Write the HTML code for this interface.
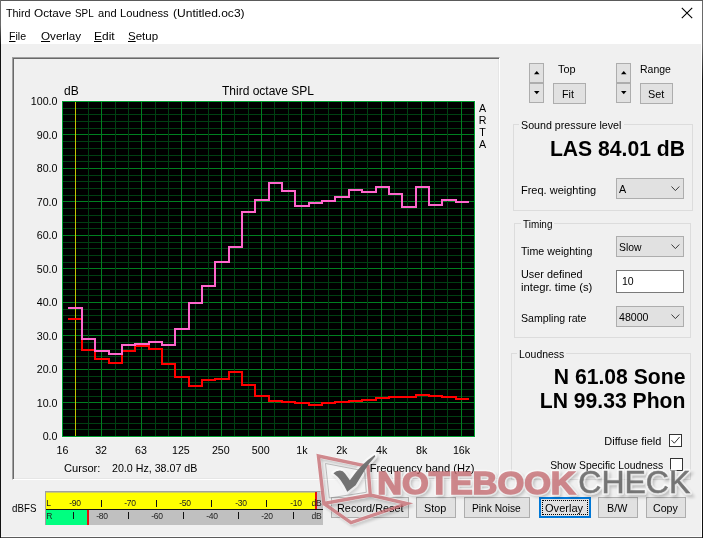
<!DOCTYPE html>
<html><head><meta charset="utf-8"><title>Third Octave SPL and Loudness</title>
<style>
html,body{margin:0;padding:0}
body{width:703px;height:538px;overflow:hidden;position:relative;background:#f0f0f0;font-family:"Liberation Sans",sans-serif;font-size:12px;color:#000}
.win div,.win span{position:absolute;white-space:nowrap}
.win{position:absolute;left:0;top:0;width:703px;height:538px;overflow:hidden}
.titlebar{left:1px;top:1px;width:701px;height:43px;background:#fff}
.ui{font-size:11.4px;line-height:16px;z-index:6}
.ui u{text-decoration:underline;text-underline-offset:1px}
.bT{left:0;top:0;width:703px;height:1px;background:#5a5a5a}
.bL{left:0;top:0;width:1px;height:538px;background:linear-gradient(#6a6a6a 0,#6a6a6a 25px,#111 45px)}
.bR{left:701px;top:44px;width:1px;height:493px;background:#fff}
.bR2{left:702px;top:0;width:1px;height:538px;background:linear-gradient(#6a6a6a 0,#6a6a6a 45px,#111 80px)}
.bB{left:1px;top:536px;width:701px;height:1px;background:#fbfbfb;border-bottom:1px solid #5a5a5a}
.panel{left:12px;top:57px;width:486px;height:421px;border:1px solid;border-color:#a0a0a0 #fff #fff #a0a0a0;box-shadow:inset 1px 1px 0 #696969,inset -1px -1px 0 #e6e6e6}
.ct{font-size:12px;line-height:14px}
.cs{font-size:10.67px;line-height:14px;z-index:6}
.yl{right:645.5px;font-size:10.67px;line-height:14px;text-align:right}
.xl{z-index:6;top:442.6px;width:40px;text-align:center;font-size:10.67px;line-height:14px}
.gb{border:1px solid #dcdcdc}
.gcover{height:5px;background:#f0f0f0}
.big{font-weight:bold;font-size:21.3px;line-height:24px;text-align:right}
.btn{background:#e1e1e1;border:1px solid #adadad;box-sizing:border-box}
.combo{background:#e1e1e1;border:1px solid #adadad;box-sizing:border-box}
.chk{background:#fff;border:1px solid #333;box-sizing:border-box;width:13px;height:13px}
.meter{left:45px;top:491px;width:278px;height:34px;border-left:1px solid #a0a0a0;border-top:1px solid #a0a0a0;box-sizing:border-box;background:#c0c0c0}
.mL{left:0;top:0;width:270px;height:17px;background:linear-gradient(#cccc66 0,#cccc66 1px,#ffff00 1px)}
.mLine{left:0;top:17px;width:277px;height:1px;background:#111}
.mR{left:0;top:18px;width:277px;height:15px;background:#c0c0c0}
.mG{left:0;top:18px;width:41px;height:15px;background:#00ff80}
.mred{width:2px;background:#e81010}
.mt{font-size:9.5px;line-height:10px;color:#222;letter-spacing:-0.3px;transform:scaleX(0.9)}
.mc{width:30px;text-align:center}
.tick{width:1px;height:7px;background:#111}
</style></head><body><div class="win">
<div class="titlebar"></div>
<div id="t0" class="ui" style="left:5.5px;transform-origin:0 50%;top:4.6px;transform:scaleX(0.948);">Third</div><div id="t1" class="ui" style="left:34.2px;transform-origin:0 50%;top:4.6px;transform:scaleX(1.031);">Octave</div><div id="t2" class="ui" style="left:75.0px;transform-origin:0 50%;top:4.6px;transform:scaleX(0.864);">SPL</div><div id="t3" class="ui" style="left:97.5px;transform-origin:0 50%;top:4.6px;transform:scaleX(0.978);">and</div><div id="t4" class="ui" style="left:120.0px;transform-origin:0 50%;top:4.6px;transform:scaleX(0.984);">Loudness</div><div id="t5" class="ui" style="left:172.5px;transform-origin:0 50%;top:4.6px;transform:scaleX(1.057);">(Untitled.oc3)</div>
<svg style="position:absolute;left:681px;top:7px" width="12" height="12" viewBox="0 0 12 12"><path d="M0.8 0.8L11.2 11.2M11.2 0.8L0.8 11.2" stroke="#000" stroke-width="1.1" fill="none"/></svg>
<div id="t6" class="ui" style="left:8.5px;transform-origin:0 50%;top:28.0px;transform:scaleX(0.931);"><u>F</u>ile</div>
<div id="t7" class="ui" style="left:40.5px;transform-origin:0 50%;top:28.0px;transform:scaleX(1.021);"><u>O</u>verlay</div>
<div id="t8" class="ui" style="left:94.0px;transform-origin:0 50%;top:28.0px;transform:scaleX(1.049);"><u>E</u>dit</div>
<div id="t9" class="ui" style="left:128.0px;transform-origin:0 50%;top:28.0px;transform:scaleX(1.011);"><u>S</u>etup</div>

<div class="panel"></div>
<svg width="703" height="538" viewBox="0 0 703 538" style="position:absolute;left:0;top:0" shape-rendering="crispEdges">
<rect x="61" y="100" width="415" height="338" fill="#f8f4f8"/>
<rect x="62" y="101" width="413" height="336" fill="#000"/>
<rect x="62" y="429" width="413" height="1" fill="#004012"/>
<rect x="62" y="423" width="413" height="1" fill="#004012"/>
<rect x="62" y="416" width="413" height="1" fill="#004012"/>
<rect x="62" y="409" width="413" height="1" fill="#004012"/>
<rect x="62" y="402" width="413" height="1" fill="#007f20"/>
<rect x="62" y="396" width="413" height="1" fill="#004012"/>
<rect x="62" y="389" width="413" height="1" fill="#004012"/>
<rect x="62" y="382" width="413" height="1" fill="#004012"/>
<rect x="62" y="376" width="413" height="1" fill="#004012"/>
<rect x="62" y="369" width="413" height="1" fill="#007f20"/>
<rect x="62" y="362" width="413" height="1" fill="#004012"/>
<rect x="62" y="356" width="413" height="1" fill="#004012"/>
<rect x="62" y="349" width="413" height="1" fill="#004012"/>
<rect x="62" y="342" width="413" height="1" fill="#004012"/>
<rect x="62" y="335" width="413" height="1" fill="#007f20"/>
<rect x="62" y="329" width="413" height="1" fill="#004012"/>
<rect x="62" y="322" width="413" height="1" fill="#004012"/>
<rect x="62" y="315" width="413" height="1" fill="#004012"/>
<rect x="62" y="309" width="413" height="1" fill="#004012"/>
<rect x="62" y="302" width="413" height="1" fill="#007f20"/>
<rect x="62" y="295" width="413" height="1" fill="#004012"/>
<rect x="62" y="289" width="413" height="1" fill="#004012"/>
<rect x="62" y="282" width="413" height="1" fill="#004012"/>
<rect x="62" y="275" width="413" height="1" fill="#004012"/>
<rect x="62" y="268" width="413" height="1" fill="#007f20"/>
<rect x="62" y="262" width="413" height="1" fill="#004012"/>
<rect x="62" y="255" width="413" height="1" fill="#004012"/>
<rect x="62" y="248" width="413" height="1" fill="#004012"/>
<rect x="62" y="242" width="413" height="1" fill="#004012"/>
<rect x="62" y="235" width="413" height="1" fill="#007f20"/>
<rect x="62" y="228" width="413" height="1" fill="#004012"/>
<rect x="62" y="222" width="413" height="1" fill="#004012"/>
<rect x="62" y="215" width="413" height="1" fill="#004012"/>
<rect x="62" y="208" width="413" height="1" fill="#004012"/>
<rect x="62" y="201" width="413" height="1" fill="#007f20"/>
<rect x="62" y="195" width="413" height="1" fill="#004012"/>
<rect x="62" y="188" width="413" height="1" fill="#004012"/>
<rect x="62" y="181" width="413" height="1" fill="#004012"/>
<rect x="62" y="175" width="413" height="1" fill="#004012"/>
<rect x="62" y="168" width="413" height="1" fill="#007f20"/>
<rect x="62" y="161" width="413" height="1" fill="#004012"/>
<rect x="62" y="155" width="413" height="1" fill="#004012"/>
<rect x="62" y="148" width="413" height="1" fill="#004012"/>
<rect x="62" y="141" width="413" height="1" fill="#004012"/>
<rect x="62" y="134" width="413" height="1" fill="#007f20"/>
<rect x="62" y="128" width="413" height="1" fill="#004012"/>
<rect x="62" y="121" width="413" height="1" fill="#004012"/>
<rect x="62" y="114" width="413" height="1" fill="#004012"/>
<rect x="62" y="108" width="413" height="1" fill="#004012"/>
<rect x="75" y="101" width="1" height="336" fill="#c4c400"/>
<rect x="88" y="101" width="1" height="336" fill="#004012"/>
<rect x="101" y="101" width="1" height="336" fill="#007f20"/>
<rect x="115" y="101" width="1" height="336" fill="#004012"/>
<rect x="128" y="101" width="1" height="336" fill="#004012"/>
<rect x="141" y="101" width="1" height="336" fill="#007f20"/>
<rect x="155" y="101" width="1" height="336" fill="#004012"/>
<rect x="168" y="101" width="1" height="336" fill="#004012"/>
<rect x="181" y="101" width="1" height="336" fill="#007f20"/>
<rect x="195" y="101" width="1" height="336" fill="#004012"/>
<rect x="208" y="101" width="1" height="336" fill="#004012"/>
<rect x="221" y="101" width="1" height="336" fill="#007f20"/>
<rect x="234" y="101" width="1" height="336" fill="#004012"/>
<rect x="248" y="101" width="1" height="336" fill="#004012"/>
<rect x="261" y="101" width="1" height="336" fill="#007f20"/>
<rect x="274" y="101" width="1" height="336" fill="#004012"/>
<rect x="288" y="101" width="1" height="336" fill="#004012"/>
<rect x="301" y="101" width="1" height="336" fill="#007f20"/>
<rect x="314" y="101" width="1" height="336" fill="#004012"/>
<rect x="328" y="101" width="1" height="336" fill="#004012"/>
<rect x="341" y="101" width="1" height="336" fill="#007f20"/>
<rect x="354" y="101" width="1" height="336" fill="#004012"/>
<rect x="367" y="101" width="1" height="336" fill="#004012"/>
<rect x="381" y="101" width="1" height="336" fill="#007f20"/>
<rect x="394" y="101" width="1" height="336" fill="#004012"/>
<rect x="407" y="101" width="1" height="336" fill="#004012"/>
<rect x="421" y="101" width="1" height="336" fill="#007f20"/>
<rect x="434" y="101" width="1" height="336" fill="#004012"/>
<rect x="447" y="101" width="1" height="336" fill="#004012"/>
<rect x="461" y="101" width="1" height="336" fill="#007f20"/>
<rect x="62.5" y="101.5" width="412" height="335" fill="none" stroke="#00a030" stroke-width="1"/>
<path d="M68.4 318.9H81.8V350.2H95.1V358.5H108.5V362.7H121.8V350.5H135.2V345.7H148.5V348.9H161.8V363.8H175.2V376.9H188.5V385.8H201.9V380.2H215.2V378.8H228.6V371.9H241.9V384.8H255.3V395.8H268.7V400.8H282.0V401.8H295.4V403.1H308.7V404.9H322.1V403.1H335.4V402.1H348.8V401.1H362.1V399.9H375.5V397.8H388.8V396.7H402.1V396.7H415.5V394.9H428.9V396.0H442.2V396.7H455.6V399.1H468.9" fill="none" stroke="#ff0000" stroke-width="2"/>
<path d="M68.4 308.0H81.8V339.0H95.1V351.0H108.5V354.4H121.8V344.7H135.2V343.5H148.5V342.2H161.8V345.4H175.2V328.6H188.5V302.7H201.9V285.6H215.2V261.7H228.6V246.9H241.9V211.6H255.3V200.1H268.7V182.9H282.0V190.9H295.4V205.7H308.7V203.0H322.1V200.6H335.4V196.8H348.8V190.2H362.1V191.9H375.5V186.9H388.8V193.9H402.1V207.2H415.5V186.9H428.9V204.8H442.2V199.8H455.6V201.8H468.9" fill="none" stroke="#ff66cc" stroke-width="2"/>
</svg>
<div class="ct" style="left:64px;top:84px">dB</div>
<div class="ct" style="left:222px;top:84px">Third octave SPL</div>
<div class="cs" style="left:478px;top:102.3px;line-height:12px;width:9px;text-align:center;white-space:normal">A<br>R<br>T<br>A</div>
<div class="yl" style="top:429.4px">0.0</div>
<div class="yl" style="top:395.9px">10.0</div>
<div class="yl" style="top:362.4px">20.0</div>
<div class="yl" style="top:328.9px">30.0</div>
<div class="yl" style="top:295.4px">40.0</div>
<div class="yl" style="top:261.9px">50.0</div>
<div class="yl" style="top:228.4px">60.0</div>
<div class="yl" style="top:194.9px">70.0</div>
<div class="yl" style="top:161.4px">80.0</div>
<div class="yl" style="top:127.9px">90.0</div>
<div class="yl" style="top:94.4px">100.0</div>
<div class="xl" style="left:42.5px">16</div>
<div class="xl" style="left:81.1px">32</div>
<div class="xl" style="left:121.0px">63</div>
<div class="xl" style="left:160.9px">125</div>
<div class="xl" style="left:200.8px">250</div>
<div class="xl" style="left:240.7px">500</div>
<div class="xl" style="left:281.9px">1k</div>
<div class="xl" style="left:321.8px">2k</div>
<div class="xl" style="left:361.7px">4k</div>
<div class="xl" style="left:401.6px">8k</div>
<div class="xl" style="left:441.5px">16k</div>
<div class="cs" style="left:64px;top:461px;font-size:11.1px">Cursor:</div>
<div class="cs" style="left:112px;top:461px">20.0 Hz, 38.07 dB</div>
<div class="cs" style="right:228.60000000000002px;top:461px;font-size:11.15px">Frequency band (Hz)</div>

<div id="t10" class="ui" style="left:11.7px;transform-origin:0 50%;top:500.2px;transform:scaleX(0.856);">dBFS</div>
<div class="meter">
<div class="mL"></div><div class="mLine"></div><div class="mR"></div><div class="mG"></div>
<div class="mred" style="left:269px;top:0px;height:17px"></div>
<div class="mred" style="left:41px;top:18px;height:15px"></div>
<span class="mt" style="left:0px;top:6px">L</span><span class="mt" style="left:0px;top:19px">R</span>
<span class="mt mc" style="left:13.8px;top:6px">-90</span>
<div class="tick" style="left:26.9px;top:20px"></div>
<span class="mt mc" style="left:69.0px;top:6px">-70</span>
<div class="tick" style="left:81.8px;top:20px"></div>
<span class="mt mc" style="left:124.2px;top:6px">-50</span>
<div class="tick" style="left:136.8px;top:20px"></div>
<span class="mt mc" style="left:179.5px;top:6px">-30</span>
<div class="tick" style="left:191.6px;top:20px"></div>
<span class="mt mc" style="left:234.7px;top:6px">-10</span>
<div class="tick" style="left:246.6px;top:20px"></div>
<span class="mt mc" style="left:41.4px;top:19px">-80</span>
<div class="tick" style="left:55.4px;top:8px"></div>
<span class="mt mc" style="left:96.3px;top:19px">-60</span>
<div class="tick" style="left:110.3px;top:8px"></div>
<span class="mt mc" style="left:151.2px;top:19px">-40</span>
<div class="tick" style="left:165.2px;top:8px"></div>
<span class="mt mc" style="left:206.1px;top:19px">-20</span>
<div class="tick" style="left:220.1px;top:8px"></div>
<span class="mt" style="left:265px;top:6px">dB</span><span class="mt" style="left:265px;top:19px">dB</span>
</div>

<div class="btn" style="left:529px;top:63px;width:15px;height:20px"><svg style="position:absolute;left:3.7px;top:7px" width="6" height="4"><path d="M0 3.3L2.75 0L5.5 3.3Z" fill="#000"/></svg></div>
<div class="btn" style="left:529px;top:83px;width:15px;height:20px"><svg style="position:absolute;left:3.7px;top:7px" width="6" height="4"><path d="M0 0L2.75 3.3L5.5 0Z" fill="#000"/></svg></div>
<div id="t11" class="ui" style="left:557.9px;transform-origin:0 50%;top:61.3px;transform:scaleX(0.958);">Top</div>
<div class="btn" style="left:553px;top:83px;width:33px;height:21px"></div>
<div id="t12" class="ui" style="left:562.4px;transform-origin:0 50%;top:85.7px;transform:scaleX(0.940);">Fit</div>
<div class="btn" style="left:616px;top:63px;width:15px;height:20px"><svg style="position:absolute;left:3.7px;top:7px" width="6" height="4"><path d="M0 3.3L2.75 0L5.5 3.3Z" fill="#000"/></svg></div>
<div class="btn" style="left:616px;top:83px;width:15px;height:20px"><svg style="position:absolute;left:3.7px;top:7px" width="6" height="4"><path d="M0 0L2.75 3.3L5.5 0Z" fill="#000"/></svg></div>
<div id="t13" class="ui" style="left:639.7px;transform-origin:0 50%;top:61.3px;transform:scaleX(0.920);">Range</div>
<div class="btn" style="left:640px;top:83px;width:33px;height:21px"></div>
<div id="t14" class="ui" style="left:647.7px;transform-origin:0 50%;top:85.7px;transform:scaleX(0.953);">Set</div>

<div class="gb" style="left:513px;top:124px;width:178px;height:85px"></div>
<div class="gcover" style="left:519px;top:122px;width:105px"></div>
<div id="t15" class="ui" style="left:521.4px;transform-origin:0 50%;top:116.9px;transform:scaleX(0.938);">Sound pressure level</div>
<div class="big" style="right:18px;top:137.3px;font-size:21.15px">LAS 84.01 dB</div>
<div id="t16" class="ui" style="left:521.4px;transform-origin:0 50%;top:181.7px;transform:scaleX(0.965);">Freq. weighting</div>
<div class="combo" style="left:616px;top:178px;width:68px;height:21px"><svg style="position:absolute;left:53.6px;top:7.2px" width="10" height="6"><path d="M0.5 0.5L4.4 4.6L8.3 0.5" stroke="#3a3a3a" stroke-width="1" fill="none"/></svg></div>
<div id="t17" class="ui" style="left:619.2px;transform-origin:0 50%;top:180.5px;transform:scaleX(0.946);">A</div>

<div class="gb" style="left:514px;top:223px;width:175px;height:113px"></div>
<div class="gcover" style="left:521px;top:221px;width:33px"></div>
<div id="t18" class="ui" style="left:523.2px;transform-origin:0 50%;top:215.8px;transform:scaleX(0.871);">Timing</div>
<div id="t19" class="ui" style="left:521.4px;transform-origin:0 50%;top:243.1px;transform:scaleX(0.936);">Time weighting</div>
<div class="combo" style="left:616px;top:236px;width:68px;height:21px"><svg style="position:absolute;left:53.6px;top:7.2px" width="10" height="6"><path d="M0.5 0.5L4.4 4.6L8.3 0.5" stroke="#3a3a3a" stroke-width="1" fill="none"/></svg></div>
<div id="t20" class="ui" style="left:618.7px;transform-origin:0 50%;top:238.6px;transform:scaleX(0.911);">Slow</div>
<div id="t21" class="ui" style="left:521.4px;transform-origin:0 50%;top:265.7px;transform:scaleX(0.952);">User defined</div>
<div id="t22" class="ui" style="left:521.4px;transform-origin:0 50%;top:279.0px;transform:scaleX(0.988);">integr. time (s)</div>
<div class="combo" style="left:616px;top:270px;width:68px;height:23px;background:#fff;border-color:#7a7a7a"></div>
<div id="t23" class="ui" style="left:621.9px;transform-origin:0 50%;top:273.0px;transform:scaleX(0.923);">10</div>
<div id="t24" class="ui" style="left:521.4px;transform-origin:0 50%;top:310.0px;transform:scaleX(0.931);">Sampling rate</div>
<div class="combo" style="left:616px;top:306px;width:68px;height:21px"><svg style="position:absolute;left:53.6px;top:7.2px" width="10" height="6"><path d="M0.5 0.5L4.4 4.6L8.3 0.5" stroke="#3a3a3a" stroke-width="1" fill="none"/></svg></div>
<div id="t25" class="ui" style="left:619.1px;transform-origin:0 50%;top:308.8px;transform:scaleX(0.931);">48000</div>

<div class="gb" style="left:511px;top:353px;width:178px;height:125px"></div>
<div class="gcover" style="left:517px;top:351px;width:49px"></div>
<div id="t26" class="ui" style="left:519.3px;transform-origin:0 50%;top:346.0px;transform:scaleX(0.915);">Loudness</div>
<div class="big" style="right:17.600000000000023px;top:365px;font-size:21.15px">N 61.08 Sone</div>
<div class="big" style="right:17.600000000000023px;top:389px;font-size:21.15px">LN 99.33 Phon</div>
<div id="t27" class="ui" style="right:41.6px;transform-origin:100% 50%;top:433.0px;transform:scaleX(0.961);">Diffuse field</div>
<div class="chk" style="left:669px;top:434px"><svg style="position:absolute;left:0;top:0" width="11" height="11"><path d="M1.5 5.2L4.3 8.2L9.6 2" stroke="#333" stroke-width="1" fill="none"/></svg></div>
<div id="t28" class="ui" style="right:40.1px;transform-origin:100% 50%;top:456.8px;transform:scaleX(0.910);">Show Specific Loudness</div>
<div class="chk" style="left:670px;top:458px"></div>

<div class="btn" style="left:331px;top:497px;width:78px;height:21px"></div>
<div id="t29" class="ui" style="left:336.5px;transform-origin:0 50%;top:499.7px;transform:scaleX(0.956);">Record/Reset</div>
<div class="btn" style="left:416px;top:497px;width:40px;height:21px"></div>
<div id="t30" class="ui" style="left:424.4px;transform-origin:0 50%;top:499.7px;transform:scaleX(0.947);">Stop</div>
<div class="btn" style="left:464px;top:497px;width:66px;height:21px"></div>
<div id="t31" class="ui" style="left:472.0px;transform-origin:0 50%;top:499.7px;transform:scaleX(0.896);">Pink Noise</div>
<div class="btn" style="left:539px;top:497px;width:52px;height:21px;border:2px solid #0078d7"><div style="left:1px;top:1px;right:1px;bottom:1px;border:1px dotted #000"></div></div>
<div id="t32" class="ui" style="left:544.8px;transform-origin:0 50%;top:499.7px;transform:scaleX(0.971);">Overlay</div>
<div class="btn" style="left:598px;top:497px;width:40px;height:21px"></div>
<div id="t33" class="ui" style="left:607.4px;transform-origin:0 50%;top:499.7px;transform:scaleX(0.944);">B/W</div>
<div class="btn" style="left:646px;top:497px;width:40px;height:21px"></div>
<div id="t34" class="ui" style="left:652.5px;transform-origin:0 50%;top:499.7px;transform:scaleX(0.933);">Copy</div>

<div class="bB"></div><div class="bR"></div><div class="bR2"></div><div class="bT"></div><div class="bL"></div>

<svg style="position:absolute;left:0;top:0;pointer-events:none;z-index:5" width="703" height="538" viewBox="0 0 703 538">
<defs>
<filter id="b1" x="-10%" y="-40%" width="120%" height="180%"><feGaussianBlur stdDeviation="0.6"/></filter>
<filter id="b2" x="-10%" y="-40%" width="120%" height="180%"><feGaussianBlur stdDeviation="1.6"/></filter>

</defs>
<g transform="translate(2,2.5)" fill="#000" stroke="#000" stroke-width="3" opacity="0.2" filter="url(#b2)">
<text x="377.2" y="493.6" font-family="Liberation Sans, sans-serif" font-weight="bold" font-size="31.4" textLength="198.5" lengthAdjust="spacingAndGlyphs">NOTEBOOK</text>
<text x="578.3" y="493.3" font-family="Liberation Sans, sans-serif" font-size="32" textLength="112" lengthAdjust="spacingAndGlyphs">CHECK</text>
<path d="M318.4 456L368 466.3L370.3 495L323.9 503.5Z M323.9 503.5L351 522.7L407 503.5L370.3 495" fill="none"/>
<path d="M333.4 473.2Q336 471 339.9 470.6Q343 470.8 345 473.5L349.9 480.2Q361 464 374.7 455.1L375.2 456.6Q369 463 364.9 470L355.6 485.3L347.3 491.8Q344 485 340.8 480.6Q337.5 476 333.4 473.2Z"/>
</g>
<g fill="#fff" stroke="#fff" stroke-width="4.4" stroke-linejoin="round" opacity="0.6" filter="url(#b1)">
<text x="377.2" y="493.6" font-family="Liberation Sans, sans-serif" font-weight="bold" font-size="31.4" textLength="198.5" lengthAdjust="spacingAndGlyphs">NOTEBOOK</text>
<text x="578.3" y="493.3" font-family="Liberation Sans, sans-serif" font-size="32" textLength="112" lengthAdjust="spacingAndGlyphs">CHECK</text>
<path d="M318.4 456L368 466.3L370.3 495L323.9 503.5Z M323.9 503.5L351 522.7L407 503.5L370.3 495" fill="none"/>
<path d="M333.4 473.2Q336 471 339.9 470.6Q343 470.8 345 473.5L349.9 480.2Q361 464 374.7 455.1L375.2 456.6Q369 463 364.9 470L355.6 485.3L347.3 491.8Q344 485 340.8 480.6Q337.5 476 333.4 473.2Z"/>
</g>
</svg>
<svg style="position:absolute;left:0;top:0;pointer-events:none;z-index:7" width="703" height="538" viewBox="0 0 703 538">
<g opacity="0.75">
<path d="M318.4 456L368 466.3L370.3 495L323.9 503.5Z M323.9 503.5L351 522.7L407 503.5L370.3 495" fill="none" stroke="#c4666c" stroke-width="3.4" stroke-linejoin="miter"/>
<path d="M325.5 463.5L364.5 471L366.3 492.3L329.3 498Z" fill="#fff" fill-opacity="0.35" stroke="#888" stroke-width="0.7"/>
<path d="M333.4 473.2Q336 471 339.9 470.6Q343 470.8 345 473.5L349.9 480.2Q361 464 374.7 455.1L375.2 456.6Q369 463 364.9 470L355.6 485.3L347.3 491.8Q344 485 340.8 480.6Q337.5 476 333.4 473.2Z" fill="#4c4c4c"/>
<text x="377.2" y="493.6" font-family="Liberation Sans, sans-serif" font-weight="bold" font-size="31.4" fill="#c4666c" stroke="#c4666c" stroke-width="1.5" textLength="198.5" lengthAdjust="spacingAndGlyphs">NOTEBOOK</text>
<text x="578.3" y="493.3" font-family="Liberation Sans, sans-serif" font-size="32" fill="#4e4e4e" stroke="#4e4e4e" stroke-width="0.5" textLength="112" lengthAdjust="spacingAndGlyphs">CHECK</text>
</g>
</svg>
</div></body></html>
